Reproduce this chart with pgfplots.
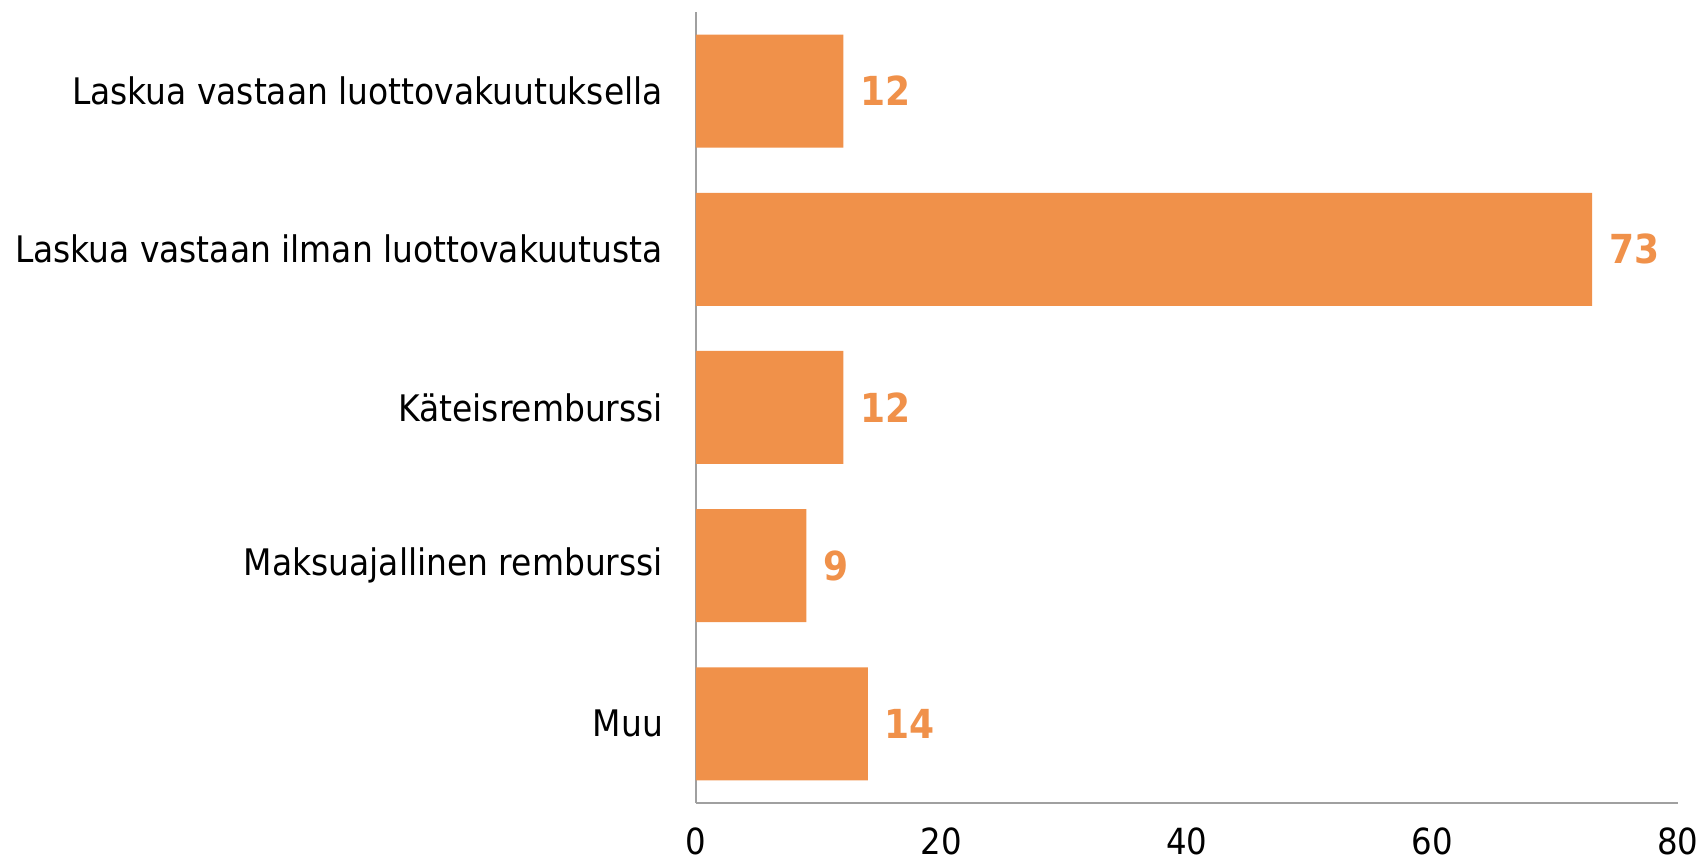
\documentclass[border=0pt]{standalone}
\usepackage{fontspec}
\setmainfont{DejaVu Sans Condensed}
\usepackage{pgfplots}
\pgfplotsset{compat=1.18}
\definecolor{barorange}{HTML}{F0914A}
\definecolor{axgray}{HTML}{A0A0A0}
\begin{document}
\begin{tikzpicture}
\begin{axis}[
  at={(0,0)}, anchor=south west,
  scale only axis,
  width=491pt, height=395.5pt,
  xbar, bar width=56.5pt,
  xmin=0, xmax=80,
  ymin=-0.5, ymax=4.5,
  axis x line*=bottom, axis y line*=left,
  axis line style={axgray, line width=1pt, -},
  xtick={0,20,40,60,80},
  major tick length=0pt,
  ytick={0,1,2,3,4},
  yticklabels={Muu, Maksuajallinen remburssi, Käteisremburssi, Laskua vastaan ilman luottovakuutusta, Laskua vastaan luottovakuutuksella},
  /pgf/number format/assume math mode=true,
  xticklabel style={font=\fontsize{18}{20}\selectfont, yshift=-9pt},
  yticklabel style={font=\fontsize{18.3}{20}\selectfont, xshift=-13pt},
  nodes near coords,
  every node near coord/.append style={font=\fontsize{20}{24}\selectfont\bfseries, color=barorange, anchor=west, xshift=5pt},
  clip=false,
]
\addplot[fill=barorange, draw=none] coordinates {(14,0) (9,1) (12,2) (73,3) (12,4)};
\end{axis}
\pgfresetboundingbox
\path (-348pt,-31.5pt) rectangle (503pt,401.5pt);
\end{tikzpicture}
\end{document}
